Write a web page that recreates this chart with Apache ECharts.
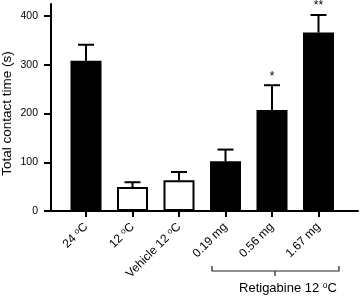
<!DOCTYPE html>
<html>
<head>
<meta charset="utf-8">
<script src="https://cdn.jsdelivr.net/npm/echarts@6/dist/echarts.min.js"></script>
<style>
  html, body { margin: 0; padding: 0; background: #fff; }
  #chart { width: 360px; height: 298px; }
</style>
</head>
<body>
<div id="chart"></div>
<script>
// 数据
var categories = ['24 °C', '12 °C', 'Vehicle 12 °C', '0.19 mg', '0.56 mg', '1.67 mg'];
var means = [308, 49, 63, 102, 207, 366];
var errors = [33, 10, 17, 24, 51, 36];
var fills = ['#000', '#fff', '#fff', '#000', '#000', '#000'];
var stars = ['', '', '', '', '*', '**'];
var yTicks = [0, 100, 200, 300, 400];

var font = 'Liberation Sans, Arial, Helvetica, sans-serif';
var chart = echarts.init(document.getElementById('chart'));

var option = {
  animation: false,
  textStyle: { fontFamily: font },
  grid: [
    { left: 62.75, right: 18.25, top: 16, bottom: 87, outerBoundsMode: 'none' }, // 柱子
    { left: 51, right: 2, top: 4, bottom: 87, outerBoundsMode: 'none' }          // 坐标轴线
  ],
  xAxis: [
    {
      type: 'category',
      gridIndex: 0,
      data: categories,
      axisLine: { show: false },
      axisTick: { show: true, alignWithLabel: true, length: 6, lineStyle: { color: '#000', width: 2 } },
      axisLabel: {
        rotate: 45,
        margin: 14,
        color: '#000',
        fontSize: 12,
        fontFamily: font,
        formatter: function (v) { return v.replace('°', '{o|o}'); },
        rich: { o: { fontSize: 8, verticalAlign: 'top', color: '#000', fontFamily: font } }
      }
    },
    {
      type: 'value',
      gridIndex: 1,
      min: 0, max: 1,
      axisLine: { show: true, lineStyle: { color: '#000', width: 2 } },
      axisTick: { show: false },
      axisLabel: { show: false },
      splitLine: { show: false }
    }
  ],
  yAxis: [
    {
      type: 'value',
      gridIndex: 0,
      min: yTicks[0],
      max: yTicks[yTicks.length - 1],
      interval: 100,
      offset: 11.75,
      axisLine: { show: false },
      axisTick: { show: true, length: 7, lineStyle: { color: '#000', width: 2 } },
      axisLabel: { color: '#000', fontSize: 10.5, margin: 13, fontFamily: font },
      splitLine: { show: false },
      name: 'Total contact time (s)',
      nameLocation: 'middle',
      nameGap: 37,
      nameMoveOverlap: false,
      nameTextStyle: { color: '#000', fontSize: 13.5, fontFamily: font }
    },
    {
      type: 'value',
      gridIndex: 1,
      min: 0, max: 1,
      axisLine: { show: true, lineStyle: { color: '#000', width: 2 } },
      axisTick: { show: false },
      axisLabel: { show: false },
      splitLine: { show: false }
    }
  ],
  series: [
    {
      type: 'bar',
      xAxisIndex: 0,
      yAxisIndex: 0,
      barWidth: 31,
      data: means.map(function (v, i) {
        return { value: v, itemStyle: { color: fills[i], borderColor: '#000', borderWidth: 2 } };
      }),
      z: 2
    },
    {
      // 误差线 + 显著性星号
      type: 'custom',
      xAxisIndex: 0,
      yAxisIndex: 0,
      data: means.map(function (v, i) { return [i, v, v + errors[i]]; }),
      renderItem: function (params, api) {
        var base = api.coord([api.value(0), api.value(1)]);
        var top = api.coord([api.value(0), api.value(2)]);
        var cap = 8;
        var s = stars[params.dataIndex];
        var children = [
          { type: 'line', shape: { x1: base[0], y1: base[1], x2: top[0], y2: top[1] }, style: { stroke: '#000', lineWidth: 2 } },
          { type: 'line', shape: { x1: top[0] - cap, y1: top[1], x2: top[0] + cap, y2: top[1] }, style: { stroke: '#000', lineWidth: 2 } }
        ];
        if (s) {
          children.push({
            type: 'text',
            x: top[0], y: top[1] - 3,
            style: { text: s, fill: '#000', font: '12px ' + font, align: 'center', verticalAlign: 'bottom' }
          });
        }
        return { type: 'group', children: children };
      },
      z: 1
    }
  ],
  graphic: [
    {
      type: 'polyline',
      shape: { points: [[212, 266], [212, 271], [339, 271], [339, 266]] },
      style: { stroke: '#222', lineWidth: 1.2, fill: null }
    },
    {
      type: 'line',
      shape: { x1: 275, y1: 271, x2: 275, y2: 276 },
      style: { stroke: '#222', lineWidth: 1.2 }
    },
    {
      type: 'text',
      x: 288, y: 288,
      style: {
        text: 'Retigabine 12 {o|o}C',
        font: '13px ' + font,
        fill: '#000',
        align: 'center',
        verticalAlign: 'middle',
        rich: { o: { fontSize: 8.5, verticalAlign: 'top', fill: '#000' } }
      }
    }
  ]
};

option && chart.setOption(option);
window.addEventListener('resize', function () { chart.resize(); });
</script>
</body>
</html>
